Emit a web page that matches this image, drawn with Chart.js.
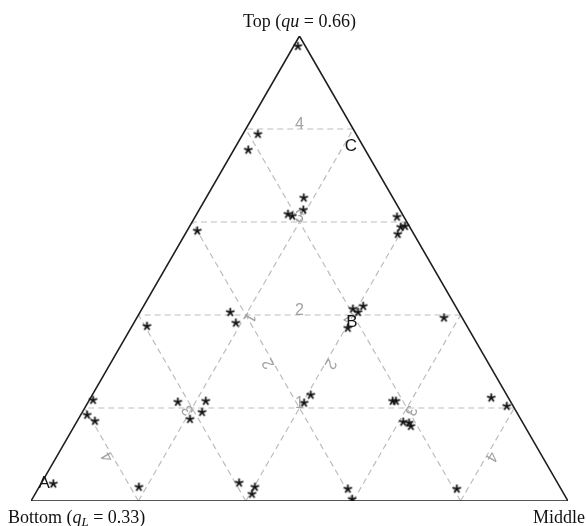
<!DOCTYPE html>
<html><head><meta charset="utf-8">
<script src="https://cdn.jsdelivr.net/npm/chart.js@4/dist/chart.umd.min.js"></script>
<style>html,body{margin:0;padding:0;background:#fff;}canvas{display:block;}</style>
</head><body>
<canvas id="c" width="586" height="526"></canvas>
<script>
// ---- data (ternary shares: top, middle, bottom) ----
const pointTop    = [0.978,0.789,0.755,0.652,0.626,0.617,0.613,0.581,0.611,0.589,0.591,0.574,0.376,0.406,0.383,0.413,0.406,0.419,0.372,0.394,0.213,0.215,0.191,0.176,0.217,0.185,0.172,0.211,0.228,0.215,0.215,0.170,0.168,0.161,0.222,0.204,0.030,0.039,0.030,0.015,0.026,0.004,0.026,0.037];
const pointMiddle = [0.008,0.028,0.027,0.182,0.194,0.170,0.180,0.019,0.376,0.394,0.401,0.396,0.028,0.168,0.190,0.393,0.406,0.409,0.404,0.572,0.167,0.218,0.223,0.208,0.007,0.012,0.033,0.403,0.407,0.566,0.572,0.608,0.620,0.627,0.746,0.784,0.186,0.368,0.402,0.404,0.577,0.596,0.780,0.023];
const pointBottom = [0.014,0.183,0.218,0.166,0.180,0.213,0.207,0.400,0.013,0.017,0.008,0.030,0.596,0.426,0.427,0.194,0.188,0.172,0.224,0.034,0.620,0.567,0.586,0.616,0.776,0.803,0.795,0.386,0.365,0.219,0.213,0.222,0.212,0.212,0.032,0.012,0.784,0.593,0.568,0.581,0.397,0.400,0.194,0.940];

const markerNames  = ['A','B','C'];
const markerTop    = [0.037,0.385,0.763];
const markerMiddle = [0.006,0.405,0.214];
const markerBottom = [0.957,0.210,0.023];

const gridLevels = [1,2,3,4];
const gridDivisions = 5;

const topTitle    = [['Top (',''],['qu','italic '],[' = 0.66)','']];
const bottomTitle = [['Bottom (',''],['q','italic '],['L','italic sub'],[' = 0.33)','']];
const middleTitle = [['Middle','']];

// ---- helpers ----
const H = Math.sqrt(3)/2;
function toXY(t,m,b){const s=t+m+b;t/=s;m/=s;return {x:m+t/2,y:t*H};}

const points = pointTop.map((t,i)=>toXY(t,pointMiddle[i],pointBottom[i]));

function makeStar(){
  const c=document.createElement('canvas');c.width=11;c.height=11;
  const g=c.getContext('2d');g.strokeStyle='#111';g.lineWidth=1.8;g.lineCap='round';
  for(let i=0;i<5;i++){const a=-Math.PI/2+i*2*Math.PI/5;g.beginPath();g.moveTo(5.5,5.5);g.lineTo(5.5+3.7*Math.cos(a),5.5+3.7*Math.sin(a));g.stroke();}
  return c;
}
const star = makeStar();

const datasets = [];
const gridStyle = {borderColor:'#bdbdbd',borderWidth:1.2,borderDash:[6,4],pointRadius:0,showLine:true,fill:false,order:3};
gridLevels.forEach(k=>{
  const v=k/gridDivisions;
  datasets.push(Object.assign({data:[toXY(v,1-v,0),toXY(v,0,1-v)]},gridStyle));   // constant top
  datasets.push(Object.assign({data:[toXY(0,1-v,v),toXY(1-v,0,v)]},gridStyle));   // constant bottom
  datasets.push(Object.assign({data:[toXY(0,v,1-v),toXY(1-v,v,0)]},gridStyle));   // constant middle
});
datasets.push({data:[toXY(0,0,1),toXY(0,1,0),toXY(1,0,0),toXY(0,0,1)],borderColor:'#1f1f1f',borderWidth:1.6,pointRadius:0,showLine:true,fill:false,order:2});
datasets.push({data:points,pointStyle:star,pointRadius:5,showLine:false,order:1});

function drawRich(ctx,segs,x,y,align,size){
  const fam='"Liberation Serif","Times New Roman",serif';
  const widths=segs.map(([s,st])=>{const sub=st.includes('sub');ctx.font=(st.includes('italic')?'italic ':'')+(sub?size*0.72:size)+'px '+fam;return ctx.measureText(s).width;});
  const total=widths.reduce((a,b)=>a+b,0);
  let cx = align==='center'?x-total/2:(align==='right'?x-total:x);
  segs.forEach(([s,st],i)=>{const sub=st.includes('sub');ctx.font=(st.includes('italic')?'italic ':'')+(sub?size*0.72:size)+'px '+fam;ctx.fillText(s,cx,y+(sub?3:0));cx+=widths[i];});
}

const overlay = {
  id:'overlay',
  afterDatasetsDraw(chart){
    const ctx=chart.ctx,xs=chart.scales.x,ys=chart.scales.y;
    const px=p=>({x:xs.getPixelForValue(p.x),y:ys.getPixelForValue(p.y)});
    ctx.save();
    // grid labels
    ctx.fillStyle='#a2a2a2';ctx.font='16px "Liberation Sans",Arial,sans-serif';
    ctx.textAlign='center';ctx.textBaseline='alphabetic';
    gridLevels.forEach(k=>{
      const v=k/gridDivisions,r=(1-v)/2;
      [[toXY(v,r,r),0],[toXY(r,r,v),-2*Math.PI/3],[toXY(r,v,r),2*Math.PI/3]].forEach(([p,rot])=>{
        const q=px(p);ctx.save();ctx.translate(q.x,q.y);ctx.rotate(rot);ctx.fillText(String(k),0,0);ctx.restore();
      });
    });
    // marker labels
    ctx.fillStyle='#151515';ctx.font='17px "Liberation Sans",Arial,sans-serif';ctx.textBaseline='middle';
    markerNames.forEach((n,i)=>{const q=px(toXY(markerTop[i],markerMiddle[i],markerBottom[i]));ctx.fillText(n,q.x,q.y);});
    // vertex titles
    ctx.fillStyle='#111';ctx.textBaseline='alphabetic';ctx.textAlign='left';
    const T=px(toXY(1,0,0)),L=px(toXY(0,0,1)),R=px(toXY(0,1,0));
    drawRich(ctx,topTitle,T.x,T.y-9,'center',18);
    drawRich(ctx,bottomTitle,L.x-23,L.y+22,'left',18);
    drawRich(ctx,middleTitle,R.x+17,R.y+22,'right',18);
    ctx.restore();
  }
};

new Chart(document.getElementById('c'),{
  type:'scatter',
  data:{datasets},
  options:{
    responsive:false,animation:false,
    layout:{padding:{left:31,right:18,top:36,bottom:25}},
    plugins:{legend:{display:false},tooltip:{enabled:false}},
    scales:{
      x:{type:'linear',min:0,max:1,display:false},
      y:{type:'linear',min:0,max:H,display:false}
    }
  },
  plugins:[overlay]
});
</script>
</body></html>
